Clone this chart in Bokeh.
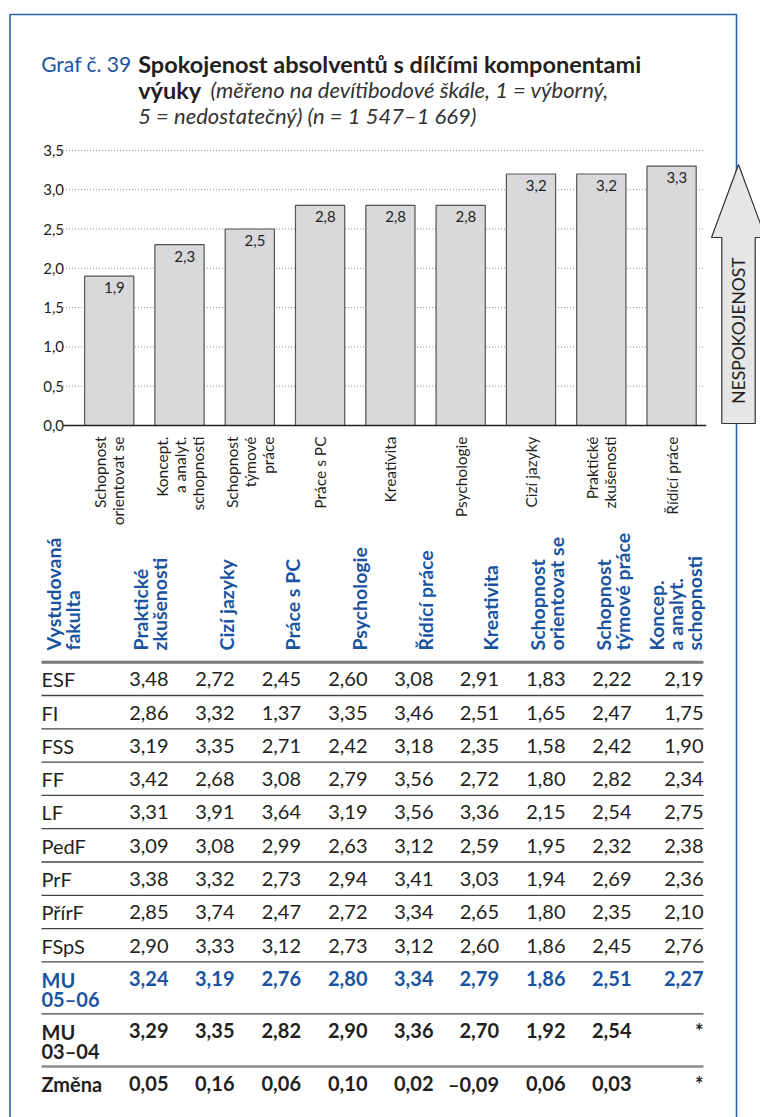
import math
from bokeh.plotting import figure
from bokeh.models import Range1d
from bokeh.core.properties import value
from bokeh.embed import file_html
from bokeh.resources import INLINE

# ---------------- data ----------------
bar_categories = ["Schopnost\norientovat se", "Koncept.\na analyt.\nschopnosti",
                  "Schopnost\ntýmové\npráce", "Práce s PC", "Kreativita", "Psychologie",
                  "Cizí jazyky", "Praktické\nzkušenosti", "Řídící práce"]
bar_values = [1.9, 2.3, 2.5, 2.8, 2.8, 2.8, 3.2, 3.2, 3.3]
y_ticks = [0.0, 0.5, 1.0, 1.5, 2.0, 2.5, 3.0, 3.5]

table_columns = ["Praktické\nzkušenosti", "Cizí jazyky", "Práce s PC", "Psychologie",
                 "Řídící práce", "Kreativita", "Schopnost\norientovat se",
                 "Schopnost\ntýmové práce", "Koncep.\na analyt.\nschopnosti"]
faculties = ["ESF", "FI", "FSS", "FF", "LF", "PedF", "PrF", "PřírF", "FSpS"]
row_ESF = [3.48, 2.72, 2.45, 2.60, 3.08, 2.91, 1.83, 2.22, 2.19]
row_FI = [2.86, 3.32, 1.37, 3.35, 3.46, 2.51, 1.65, 2.47, 1.75]
row_FSS = [3.19, 3.35, 2.71, 2.42, 3.18, 2.35, 1.58, 2.42, 1.90]
row_FF = [3.42, 2.68, 3.08, 2.79, 3.56, 2.72, 1.80, 2.82, 2.34]
row_LF = [3.31, 3.91, 3.64, 3.19, 3.56, 3.36, 2.15, 2.54, 2.75]
row_PedF = [3.09, 3.08, 2.99, 2.63, 3.12, 2.59, 1.95, 2.32, 2.38]
row_PrF = [3.38, 3.32, 2.73, 2.94, 3.41, 3.03, 1.94, 2.69, 2.36]
row_PrirF = [2.85, 3.74, 2.47, 2.72, 3.34, 2.65, 1.80, 2.35, 2.10]
row_FSpS = [2.90, 3.33, 3.12, 2.73, 3.12, 2.60, 1.86, 2.45, 2.76]
label_MU0506 = "MU\n05–06"
row_MU0506 = [3.24, 3.19, 2.76, 2.80, 3.34, 2.79, 1.86, 2.51, 2.27]
label_MU0304 = "MU\n03–04"
row_MU0304 = [3.29, 3.35, 2.82, 2.90, 3.36, 2.70, 1.92, 2.54, None]
label_change = "Změna"
row_change = [0.05, 0.16, 0.06, 0.10, 0.02, -0.09, 0.06, 0.03, None]

title_prefix = "Graf č. 39"
title_bold_1 = "Spokojenost absolventů s dílčími komponentami"
title_bold_2 = "výuky"
title_italic_1 = "(měřeno na devítibodové škále, 1 = výborný,"
title_italic_2 = "5 = nedostatečný) (n = 1 547–1 669)"
arrow_text = "NESPOKOJENOST"
table_corner = "Vystudovaná\nfakulta"

# ---------------- styles / layout ----------------
FONT = value("Lato")
BLUE = "#1a54a0"
FRAME = "#2b62ad"
DARK = "#231f20"
W, H = 760, 1117
X0, Y0 = 0, 0


def fmt(v, nd):
    if v is None:
        return "*"
    return f"{v:.{nd}f}".replace(".", ",").replace("-", "–")


p = figure(width=W, height=H, x_range=Range1d(X0, X0 + W), y_range=Range1d(Y0 + H, Y0),
           output_backend="svg", toolbar_location=None, min_border=0,
           x_axis_location=None, y_axis_location=None, outline_line_color=None)
p.background_fill_color = "white"
p.border_fill_color = "white"
p.xgrid.visible = False
p.ygrid.visible = False

# bar-chart coordinate system (index / value) placed on the page
bar_px0, bar_step = 108.7, 70.3
zero_py, unit_py = 425.0, 78.6
p.extra_x_ranges = {"bx": Range1d(-(bar_px0 - X0) / bar_step, (X0 + W - bar_px0) / bar_step)}
p.extra_y_ranges = {"by": Range1d(-(Y0 + H - zero_py) / unit_py, (zero_py - Y0) / unit_py)}

# frame
fl, fr, ft, fb = 9.5, 736.0, 14.0, Y0 + H
p.line(x=[fl, fl, fr, fr], y=[fb, ft, ft, fb], line_color=FRAME, line_width=1.6)

# title
p.text(x=[40.7], y=[63], text=[title_prefix], text_font=FONT, text_font_size="21px",
       text_color=BLUE, text_baseline="alphabetic")
p.text(x=[137.7, 137.7], y=[63, 89], text=[title_bold_1, title_bold_2], text_font=FONT,
       text_font_size="23.5px", text_font_style="bold", text_color=DARK, text_baseline="alphabetic")
p.text(x=[210, 137.7], y=[89, 115], text=[title_italic_1, title_italic_2], text_font=FONT,
       text_font_size="22px", text_font_style="italic", text_color="#333333",
       text_baseline="alphabetic")

# ---- bar chart ----
n = len(bar_values)
idx = list(range(n))
grid_ticks = [t for t in y_ticks if t > 0]
p.segment(x0=[-0.5 - 11 / bar_step] * len(grid_ticks), x1=[n - 1 + 0.35 + 7 / bar_step] * len(grid_ticks),
          y0=grid_ticks, y1=grid_ticks, x_range_name="bx", y_range_name="by",
          line_color="#8a8a8a", line_width=1, line_dash="1 2")
p.vbar(x=idx, top=bar_values, bottom=0, width=0.7, x_range_name="bx", y_range_name="by",
       fill_color="#d9d9db", line_color="#555555", line_width=1.2)
p.segment(x0=[-0.5 - 11 / bar_step], x1=[n - 1 + 0.35 + 10 / bar_step], y0=[0], y1=[0],
          x_range_name="bx", y_range_name="by", line_color="#222222", line_width=1.5)
p.text(x=[-0.5] * len(y_ticks), y=y_ticks, text=[fmt(t, 1) for t in y_ticks],
       x_offset=-10, x_range_name="bx", y_range_name="by", text_font=FONT,
       text_font_size="15px", text_color=DARK, text_align="right", text_baseline="middle")
p.text(x=[i + 0.35 for i in idx], y=bar_values, text=[fmt(v, 1) for v in bar_values],
       x_offset=-9, y_offset=6, x_range_name="bx", y_range_name="by", text_font=FONT,
       text_font_size="15px", text_color=DARK, text_align="right", text_baseline="top")
p.text(x=idx, y=[0] * n, text=bar_categories, angle=math.pi / 2, y_offset=11,
       x_range_name="bx", y_range_name="by", text_font=FONT, text_font_size="15.5px",
       text_color=DARK, text_align="right", text_baseline="middle", text_line_height=1.0)

# arrow
ax, a_tip, a_base, a_bot, a_hw, a_sw = 738.0, 164.0, 237.0, 423.0, 27.0, 16.7
p.patch(x=[ax, ax + a_hw, ax + a_sw, ax + a_sw, ax - a_sw, ax - a_sw, ax - a_hw],
        y=[a_tip, a_base, a_base, a_bot, a_bot, a_base, a_base],
        fill_color="#e6e6e7", line_color="#333333", line_width=1.2)
p.text(x=[ax], y=[(a_base + a_bot) / 2], text=[arrow_text], angle=math.pi / 2,
       text_font=FONT, text_font_size="17.5px", text_color=DARK,
       text_align="center", text_baseline="middle")

# ---- table ----
col_x = [168, 234, 300.5, 367, 433, 498.5, 565, 631, 703]
t_left, t_right = 41.0, 703.0
head_bottom = 650.0
row_heights = [33.3] * 9 + [52.0, 52.7, 36.0]
tops = [661.7]
for h in row_heights[:-1]:
    tops.append(tops[-1] + h)
first_line = 17.0
line_pitch = 21.0

# header
p.text(x=[c + 3 for c in col_x], y=[head_bottom] * len(col_x), text=table_columns,
       angle=math.pi / 2, text_font=FONT, text_font_size="19.5px", text_font_style="bold",
       text_color=BLUE, text_align="left", text_baseline="bottom", text_line_height=0.83)
p.text(x=[t_left], y=[head_bottom], text=[table_corner], angle=math.pi / 2,
       text_font=FONT, text_font_size="19.5px", text_font_style="bold",
       text_color=BLUE, text_align="left", text_baseline="top", text_line_height=0.83)

# rules
p.segment(x0=[t_left], x1=[t_right], y0=[tops[0]], y1=[tops[0]], line_color="#7a7a7a", line_width=3)
p.segment(x0=[t_left] * 10, x1=[t_right] * 10, y0=tops[1:11], y1=tops[1:11],
          line_color="#444444", line_width=1.3)
p.segment(x0=[t_left], x1=[t_right], y0=[tops[11]], y1=[tops[11]], line_color="#8c8c8c", line_width=2.5)

regular_rows = [row_ESF, row_FI, row_FSS, row_FF, row_LF, row_PedF, row_PrF, row_PrirF, row_FSpS]


def row_cells(rows, row_idx):
    xs, ys, ts = [], [], []
    for row, r in zip(rows, row_idx):
        for c, v in enumerate(row):
            xs.append(col_x[c])
            ys.append(tops[r] + first_line)
            ts.append(fmt(v, 2))
    return xs, ys, ts


xs, ys, ts = row_cells(regular_rows, list(range(9)))
p.text(x=xs, y=ys, text=ts, text_font=FONT, text_font_size="20px", text_color=DARK,
       text_align="right", text_baseline="middle")
p.text(x=[t_left] * 9, y=[tops[r] + first_line for r in range(9)], text=faculties,
       text_font=FONT, text_font_size="20px", text_color=DARK, text_align="left",
       text_baseline="middle")

xs, ys, ts = row_cells([row_MU0506], [9])
p.text(x=xs, y=ys, text=ts, text_font=FONT, text_font_size="20px", text_font_style="bold",
       text_color=BLUE, text_align="right", text_baseline="middle")
p.text(x=[t_left], y=[tops[9] + first_line + line_pitch / 2], text=[label_MU0506],
       text_font=FONT, text_font_size="20px", text_font_style="bold", text_color=BLUE,
       text_align="left", text_baseline="middle", text_line_height=0.8)

xs, ys, ts = row_cells([row_MU0304, row_change], [10, 11])
p.text(x=xs, y=ys, text=ts, text_font=FONT, text_font_size="20px", text_font_style="bold",
       text_color=DARK, text_align="right", text_baseline="middle")
p.text(x=[t_left, t_left], y=[tops[10] + first_line + line_pitch / 2, tops[11] + first_line],
       text=[label_MU0304, label_change], text_font=FONT, text_font_size="20px",
       text_font_style="bold", text_color=DARK, text_align="left", text_baseline="middle",
       text_line_height=0.8)

open("out.html", "w").write(file_html(p, INLINE))
